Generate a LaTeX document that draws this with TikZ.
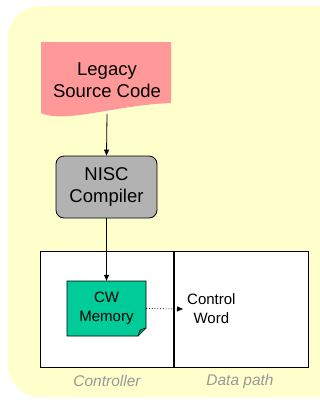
\documentclass[tikz,border=0pt]{standalone}
\usepackage{fontspec}
\setmainfont{Liberation Sans}
\usetikzlibrary{arrows.meta}
\definecolor{bgyellow}{HTML}{FFFFCC}
\definecolor{docpink}{HTML}{FF9999}
\definecolor{compgray}{HTML}{B2B2B2}
\definecolor{cwgreen}{HTML}{00CC99}
\definecolor{lblgray}{HTML}{999999}
\tikzset{
  big/.style={font=\fontsize{18.5}{22}\selectfont, align=center, inner sep=0pt},
  mid/.style={font=\fontsize{15}{19}\selectfont, align=center, inner sep=0pt},
  captext/.style={font=\fontsize{15.5}{19}\selectfont\itshape, text=lblgray, inner sep=0pt},
  conn/.style={draw=black, line width=0.8pt, -{Triangle[length=6pt,width=5pt]}},
}
\begin{document}
\begin{tikzpicture}[x=1pt,y=-1pt]
\useasboundingbox (0,0) rectangle (320,400);
\clip (0,0) rectangle (320,400);
% background
\fill[bgyellow, rounded corners=32pt] (8,6) rectangle (360,397);
% legacy document
\fill[docpink] (41,42) -- (171,42) -- (171,103) .. controls (115,105) and (65,124) .. (41,113) -- cycle;
\node[big] (legacy) at (107,80) {Legacy\\Source Code};
\coordinate (legbot) at (107,114);
% compiler
\node[draw=black, line width=0.8pt, fill=compgray, rounded corners=8pt, minimum width=101pt, minimum height=62pt, inner sep=0pt] (comp) at (106.5,187) {};
\node[big] (comptext) at (comp.center) {NISC\\Compiler};
% controller / datapath
\node[draw=black, fill=white, line width=0.8pt, minimum width=134pt, minimum height=116pt, inner sep=0pt] (ctrl) at (107,309) {};
\node[draw=black, fill=white, line width=0.8pt, minimum width=134pt, minimum height=116pt, inner sep=0pt] (dp) at (241,309) {};
\draw[line width=2pt] (ctrl.north east) -- (ctrl.south east);
% CW memory
\fill[cwgreen] (67,281) -- (146,281) -- (146,328) -- (138,336) -- (67,336) -- cycle;
\draw[line width=0.8pt] (67,281) -- (146,281) -- (146,328) -- (138,336) -- (67,336) -- cycle;
\fill[cwgreen!70!black] (138,336) -- (140,330) -- (146,328) -- cycle;
\draw[line width=0.6pt] (138,336) -- (140,330) -- (146,328);
\node[inner sep=0pt, minimum width=79pt, minimum height=55pt] (cw) at (106.5,308.5) {};
\node[mid] (cwtext) at (106.5,308) {CW\\Memory};
\node[mid, anchor=west] (cword) at (187,309) {Control\\Word};
% connectors
\draw[conn] (legbot) -- (comp.north);
\draw[conn] (comp.south) -- (cw.north);
\draw[line width=0.8pt, dotted, -{Triangle[length=6pt,width=5pt]}] (cw.east) -- ([xshift=-4pt]cword.west);
% captions
\node[captext] (lc) at (107,381) {Controller};
\node[captext] (ld) at (240,381) {Data path};
\end{tikzpicture}
\end{document}
